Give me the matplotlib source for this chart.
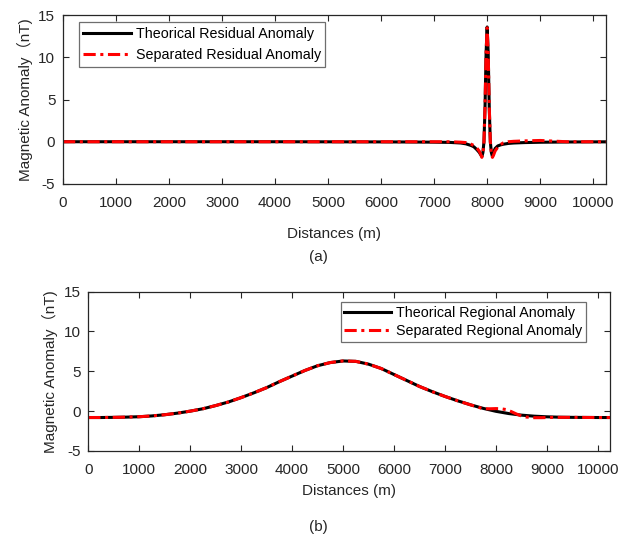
import matplotlib
matplotlib.use("Agg")
import matplotlib.pyplot as plt

# ---- data ----
res_x = [0, 1000, 2000, 3000, 4000, 5000, 6000, 6500, 7000, 7300, 7500, 7600,
         7700, 7750, 7800, 7850, 7880, 7900, 7920, 7940, 7960, 7980, 8000,
         8020, 8040, 8060, 8080, 8100, 8120, 8150, 8200, 8250, 8300, 8400,
         8500, 8700, 9000, 9500, 10240]
res_theory = [0, 0, 0, 0, 0, -0.01, -0.02, -0.03, -0.05, -0.08, -0.15, -0.25,
              -0.45, -0.6, -0.9, -1.25, -1.55, -1.75, -1.3, 0.0, 4.0, 10.5,
              13.6, 10.5, 4.0, 0.0, -1.3, -1.75, -1.3, -0.8, -0.5, -0.38, -0.3,
              -0.2, -0.15, -0.1, -0.06, -0.03, -0.01]
res_sep = [0, 0, 0, 0, 0, 0, 0, 0, 0.0, 0.0, -0.05, -0.1,
           -0.3, -0.45, -0.7, -1.1, -1.5, -1.85, -1.5, 0.0, 4.2, 10.5,
           13.5, 10.5, 4.2, 0.0, -1.4, -1.85, -1.6, -1.1, -0.65, -0.35, -0.15,
           0.0, 0.05, 0.1, 0.15, 0.0, 0.0]

reg_x = [0, 250, 500, 750, 1000, 1250, 1500, 1750, 2000, 2250, 2500, 2750,
         3000, 3250, 3500, 3750, 4000, 4250, 4500, 4750, 5000, 5250, 5500,
         5750, 6000, 6250, 6500, 6750, 7000, 7250, 7500, 7750, 8000, 8250,
         8500, 8750, 9000, 9250, 9500, 10000, 10240]
reg_theory = [-0.8, -0.8, -0.78, -0.75, -0.7, -0.6, -0.45, -0.25, 0.0, 0.3,
              0.7, 1.15, 1.7, 2.3, 2.95, 3.7, 4.4, 5.1, 5.7, 6.1, 6.3, 6.25,
              5.9, 5.35, 4.6, 3.85, 3.1, 2.45, 1.85, 1.3, 0.8, 0.35, -0.02,
              -0.3, -0.5, -0.63, -0.71, -0.76, -0.78, -0.8, -0.8]

sep_x = [0, 250, 500, 750, 1000, 1250, 1500, 1750, 2000, 2250, 2500, 2750,
         3000, 3250, 3500, 3750, 4000, 4250, 4500, 4750, 5000, 5250, 5500,
         5750, 6000, 6250, 6500, 6750, 7000, 7250, 7500, 7750, 7900, 8000,
         8100, 8200, 8300, 8400, 8500, 8600, 8750, 8900, 9000, 9250, 9500,
         10000, 10240]
reg_sep = [-0.8, -0.8, -0.78, -0.75, -0.7, -0.6, -0.45, -0.25, 0.0, 0.3,
           0.7, 1.15, 1.7, 2.3, 2.95, 3.7, 4.4, 5.1, 5.7, 6.1, 6.3, 6.25,
           5.9, 5.35, 4.6, 3.85, 3.1, 2.45, 1.85, 1.3, 0.8, 0.3, 0.3, 0.32,
           0.3, 0.2, -0.05, -0.35, -0.6, -0.74, -0.82, -0.82, -0.8, -0.78,
           -0.78, -0.8, -0.8]

x_ticks = list(range(0, 10001, 1000))
y_ticks = [-5, 0, 5, 10, 15]

plt.rcParams["font.family"] = ["Liberation Sans", "Noto Sans CJK SC", "DejaVu Sans"]
plt.rcParams["font.size"] = 11
plt.rcParams["axes.unicode_minus"] = False
TXT = "#262626"
DASHDOT = (0, (4, 1.5, 1, 1.5))

fig = plt.figure(figsize=(6.32, 5.41), dpi=100)
ax1 = fig.add_axes([0.0997, 0.660, 0.859, 0.312])
ax2 = fig.add_axes([0.1397, 0.1664, 0.8255, 0.2945])


def style(ax, xlabelpad):
    ax.set_xlim(0, 10240)
    ax.set_ylim(-5, 15)
    ax.set_xticks(x_ticks)
    ax.set_yticks(y_ticks)
    ax.tick_params(direction="in", length=4, width=0.8, top=True, right=True,
                   colors=TXT, labelsize=11)
    ax.tick_params(axis="x", pad=9)
    ax.tick_params(axis="y", pad=5.5)
    for s in ax.spines.values():
        s.set_color(TXT)
        s.set_linewidth(0.9)
    ax.set_xlabel("Distances (m)", color=TXT, labelpad=xlabelpad)
    ax.set_ylabel("Magnetic Anomaly（nT)", color=TXT, labelpad=4)


def add_legend(ax, loc, anchor, spacing, bpad):
    leg = ax.legend(loc=loc, bbox_to_anchor=anchor, borderaxespad=0,
                    fancybox=False, fontsize=10.3, handlelength=3.3,
                    handletextpad=0.35, labelspacing=spacing, borderpad=bpad,
                    framealpha=1)
    leg.get_frame().set_edgecolor("#6e6e6e")
    leg.get_frame().set_linewidth(0.9)


ax1.plot(res_x, res_theory, color="black", lw=2.2, label="Theorical Residual Anomaly")
ax1.plot(res_x, res_sep, color="red", lw=2.2, linestyle=DASHDOT,
         label="Separated Residual Anomaly")
style(ax1, 12)
add_legend(ax1, "upper left", (0.0295, 0.957), 0.54, 0.3)

ax2.plot(reg_x, reg_theory, color="black", lw=2.2, label="Theorical Regional Anomaly")
ax2.plot(sep_x, reg_sep, color="red", lw=2.2, linestyle=DASHDOT,
         label="Separated Regional Anomaly")
style(ax2, 5)
add_legend(ax2, "upper right", (0.954, 0.933), 0.31, 0.24)

fig.text(0.504, 0.525, "(a)", ha="center", va="center", color=TXT, fontsize=11)
fig.text(0.504, 0.026, "(b)", ha="center", va="center", color=TXT, fontsize=11)

fig.savefig("out.png", dpi=100, facecolor="white")
